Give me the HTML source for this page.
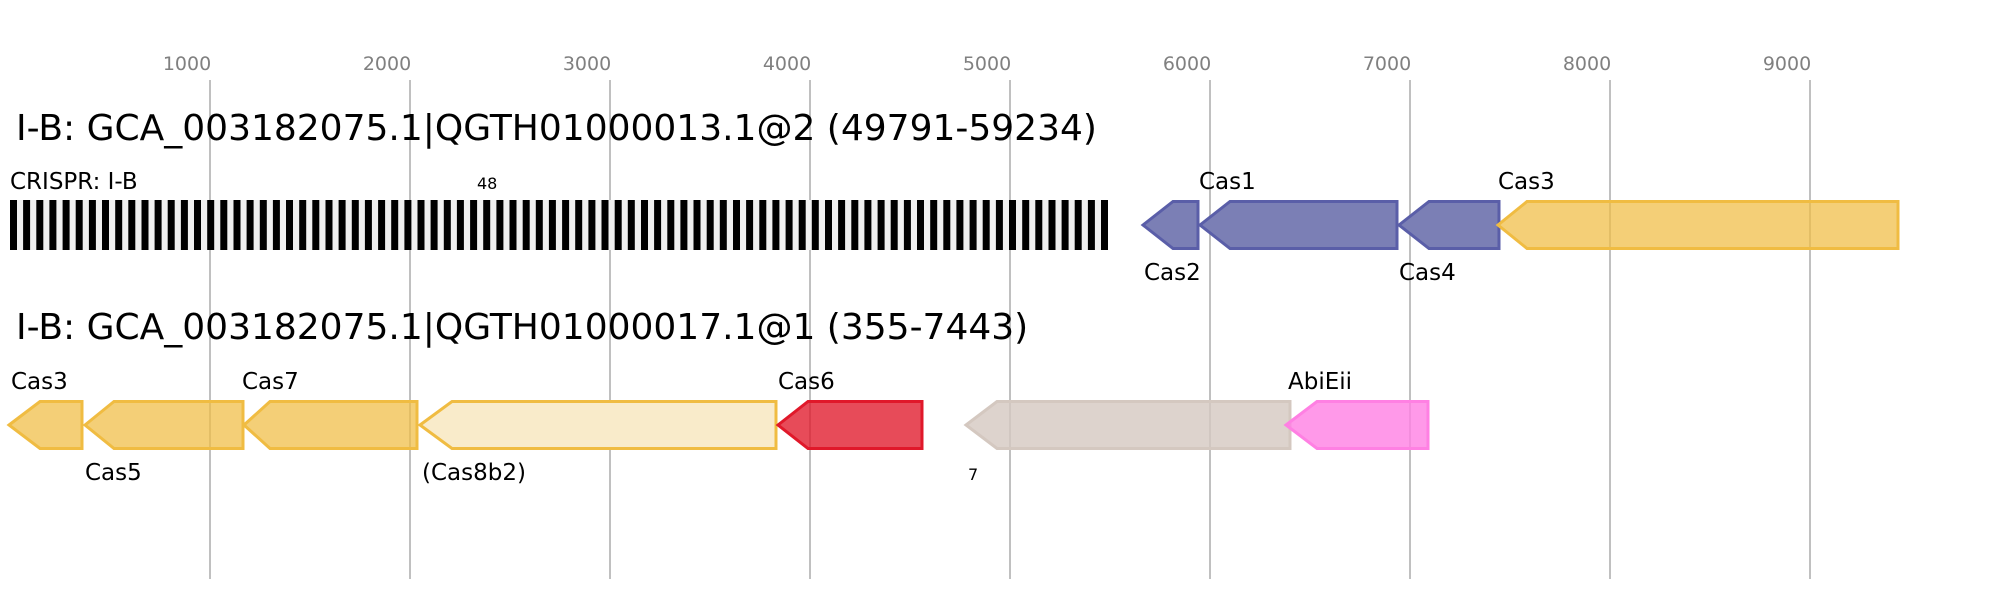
<!DOCTYPE html>
<html><head><meta charset="utf-8"><style>
html,body{margin:0;padding:0;background:#fff;}
svg{display:block;}
text{font-family:"DejaVu Sans","Liberation Sans",sans-serif;}
</style></head><body>
<svg width="1989" height="600" viewBox="0 0 1989 600" xmlns="http://www.w3.org/2000/svg">
<g font-size="19" fill="#808080" text-anchor="middle">
<text x="187" y="70">1000</text><text x="387" y="70">2000</text><text x="587" y="70">3000</text>
<text x="787" y="70">4000</text><text x="987" y="70">5000</text><text x="1187" y="70">6000</text>
<text x="1387" y="70">7000</text><text x="1587" y="70">8000</text><text x="1787" y="70">9000</text>
</g>
<g stroke="#c0c0c0" stroke-width="2">
<line x1="210" y1="80" x2="210" y2="579"/><line x1="410" y1="80" x2="410" y2="579"/>
<line x1="610" y1="80" x2="610" y2="579"/><line x1="810" y1="80" x2="810" y2="579"/>
<line x1="1010" y1="80" x2="1010" y2="579"/><line x1="1210" y1="80" x2="1210" y2="579"/>
<line x1="1410" y1="80" x2="1410" y2="579"/><line x1="1610" y1="80" x2="1610" y2="579"/>
<line x1="1810" y1="80" x2="1810" y2="579"/>
</g>
<text x="16" y="140" font-size="36" fill="#000">I-B: GCA_003182075.1|QGTH01000013.1@2 (49791-59234)</text>
<text x="10" y="189" font-size="23" fill="#000">CRISPR: I-B</text>
<text x="477" y="189" font-size="16" fill="#000">48</text>
<rect x="10" y="200" width="1098" height="50" fill="#f0f0f0"/>
<g id="st" fill="#000"></g>
<g stroke-width="3" stroke-linejoin="miter">
<polygon points="1143,225 1173,201.5 1198,201.5 1198,248.5 1173,248.5" fill="#7b7fb5" stroke="#5a5ea8"/>
<polygon points="1200,225 1230,201.5 1397,201.5 1397,248.5 1230,248.5" fill="#7b7fb5" stroke="#5a5ea8"/>
<polygon points="1399,225 1429,201.5 1499,201.5 1499,248.5 1429,248.5" fill="#7b7fb5" stroke="#5a5ea8"/>
<polygon points="1498,225 1527,201.5 1898,201.5 1898,248.5 1527,248.5" fill="#f0bc42" fill-opacity="0.72" stroke="#f0bc42"/>
</g>
<g font-size="23" fill="#000">
<text x="1199" y="189">Cas1</text><text x="1498" y="189">Cas3</text>
<text x="1144" y="280">Cas2</text><text x="1399" y="280">Cas4</text>
</g>
<text x="16" y="339" font-size="36" fill="#000">I-B: GCA_003182075.1|QGTH01000017.1@1 (355-7443)</text>
<g stroke-width="3">
<polygon points="9,425 40,401.5 82,401.5 82,448.5 40,448.5" fill="#f0bc42" fill-opacity="0.72" stroke="#f0bc42"/>
<polygon points="85,425 114,401.5 243,401.5 243,448.5 114,448.5" fill="#f0bc42" fill-opacity="0.72" stroke="#f0bc42"/>
<polygon points="244,425 270,401.5 417,401.5 417,448.5 270,448.5" fill="#f0bc42" fill-opacity="0.72" stroke="#f0bc42"/>
<polygon points="420,425 452,401.5 776,401.5 776,448.5 452,448.5" fill="#f9ebca" stroke="#f0bc42"/>
<polygon points="778,425 808,401.5 922,401.5 922,448.5 808,448.5" fill="#e0182a" fill-opacity="0.78" stroke="#e0182a"/>
<polygon points="966,425 997,401.5 1290,401.5 1290,448.5 997,448.5" fill="#d4c8c0" fill-opacity="0.8" stroke="#d4c8c0"/>
<polygon points="1286,425 1317,401.5 1428,401.5 1428,448.5 1317,448.5" fill="#ff80e3" fill-opacity="0.8" stroke="#ff80e3"/>
</g>
<g font-size="23" fill="#000">
<text x="11" y="389">Cas3</text><text x="242" y="389">Cas7</text><text x="778" y="389">Cas6</text><text x="1288" y="389">AbiEii</text>
<text x="85" y="480">Cas5</text><text x="422" y="480">(Cas8b2)</text>
</g>
<text x="968" y="480" font-size="16" fill="#000">7</text>
<g fill="#000">
<rect x="10.0" y="200" width="7" height="50"/><rect x="23.1" y="200" width="7" height="50"/><rect x="36.3" y="200" width="7" height="50"/><rect x="49.4" y="200" width="7" height="50"/><rect x="62.6" y="200" width="7" height="50"/><rect x="75.7" y="200" width="7" height="50"/><rect x="88.9" y="200" width="7" height="50"/><rect x="102.0" y="200" width="7" height="50"/><rect x="115.2" y="200" width="7" height="50"/><rect x="128.3" y="200" width="7" height="50"/><rect x="141.5" y="200" width="7" height="50"/><rect x="154.6" y="200" width="7" height="50"/><rect x="167.7" y="200" width="7" height="50"/><rect x="180.9" y="200" width="7" height="50"/><rect x="194.0" y="200" width="7" height="50"/><rect x="207.2" y="200" width="7" height="50"/><rect x="220.3" y="200" width="7" height="50"/><rect x="233.5" y="200" width="7" height="50"/><rect x="246.6" y="200" width="7" height="50"/><rect x="259.8" y="200" width="7" height="50"/><rect x="272.9" y="200" width="7" height="50"/><rect x="286.0" y="200" width="7" height="50"/><rect x="299.2" y="200" width="7" height="50"/><rect x="312.3" y="200" width="7" height="50"/><rect x="325.5" y="200" width="7" height="50"/><rect x="338.6" y="200" width="7" height="50"/><rect x="351.8" y="200" width="7" height="50"/><rect x="364.9" y="200" width="7" height="50"/><rect x="378.1" y="200" width="7" height="50"/><rect x="391.2" y="200" width="7" height="50"/><rect x="404.4" y="200" width="7" height="50"/><rect x="417.5" y="200" width="7" height="50"/><rect x="430.6" y="200" width="7" height="50"/><rect x="443.8" y="200" width="7" height="50"/><rect x="456.9" y="200" width="7" height="50"/><rect x="470.1" y="200" width="7" height="50"/><rect x="483.2" y="200" width="7" height="50"/><rect x="496.4" y="200" width="7" height="50"/><rect x="509.5" y="200" width="7" height="50"/><rect x="522.7" y="200" width="7" height="50"/><rect x="535.8" y="200" width="7" height="50"/><rect x="548.9" y="200" width="7" height="50"/><rect x="562.1" y="200" width="7" height="50"/><rect x="575.2" y="200" width="7" height="50"/><rect x="588.4" y="200" width="7" height="50"/><rect x="601.5" y="200" width="7" height="50"/><rect x="614.7" y="200" width="7" height="50"/><rect x="627.8" y="200" width="7" height="50"/><rect x="641.0" y="200" width="7" height="50"/><rect x="654.1" y="200" width="7" height="50"/><rect x="667.3" y="200" width="7" height="50"/><rect x="680.4" y="200" width="7" height="50"/><rect x="693.5" y="200" width="7" height="50"/><rect x="706.7" y="200" width="7" height="50"/><rect x="719.8" y="200" width="7" height="50"/><rect x="733.0" y="200" width="7" height="50"/><rect x="746.1" y="200" width="7" height="50"/><rect x="759.3" y="200" width="7" height="50"/><rect x="772.4" y="200" width="7" height="50"/><rect x="785.6" y="200" width="7" height="50"/><rect x="798.7" y="200" width="7" height="50"/><rect x="811.8" y="200" width="7" height="50"/><rect x="825.0" y="200" width="7" height="50"/><rect x="838.1" y="200" width="7" height="50"/><rect x="851.3" y="200" width="7" height="50"/><rect x="864.4" y="200" width="7" height="50"/><rect x="877.6" y="200" width="7" height="50"/><rect x="890.7" y="200" width="7" height="50"/><rect x="903.9" y="200" width="7" height="50"/><rect x="917.0" y="200" width="7" height="50"/><rect x="930.2" y="200" width="7" height="50"/><rect x="943.3" y="200" width="7" height="50"/><rect x="956.4" y="200" width="7" height="50"/><rect x="969.6" y="200" width="7" height="50"/><rect x="982.7" y="200" width="7" height="50"/><rect x="995.9" y="200" width="7" height="50"/><rect x="1009.0" y="200" width="7" height="50"/><rect x="1022.2" y="200" width="7" height="50"/><rect x="1035.3" y="200" width="7" height="50"/><rect x="1048.5" y="200" width="7" height="50"/><rect x="1061.6" y="200" width="7" height="50"/><rect x="1074.7" y="200" width="7" height="50"/><rect x="1087.9" y="200" width="7" height="50"/><rect x="1101.0" y="200" width="7" height="50"/>
</g>
</svg>
</body></html>
